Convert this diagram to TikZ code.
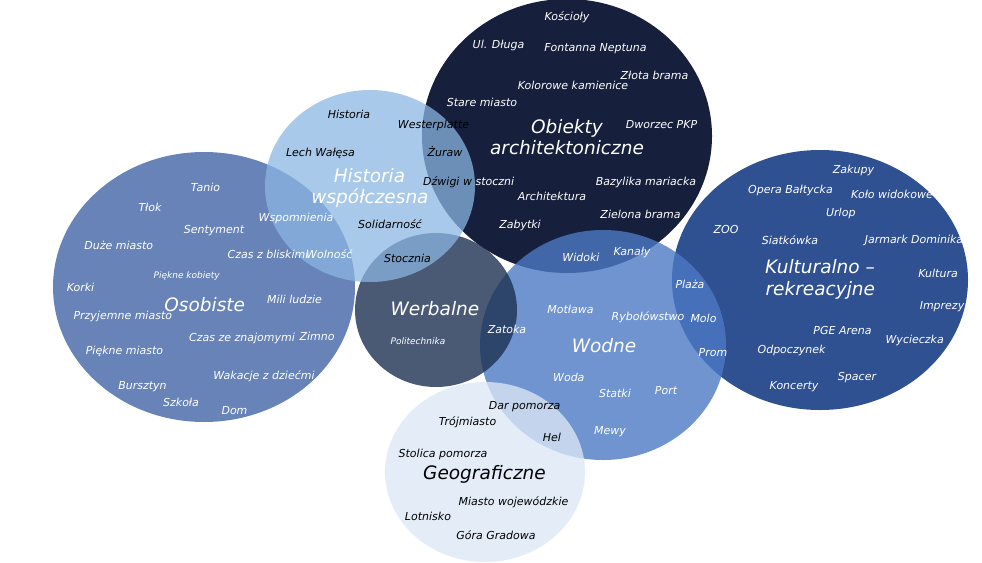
\documentclass[tikz,border=0pt]{standalone}
\usepackage{fontspec}
\setmainfont{DejaVu Sans}
\definecolor{cobj}{RGB}{22,32,60}
\definecolor{ckul}{RGB}{47,80,145}
\definecolor{cwod}{RGB}{76,121,196}
\definecolor{cosb}{RGB}{103,131,184}
\definecolor{cwer}{RGB}{29,49,83}
\definecolor{chis}{RGB}{139,182,226}
\definecolor{cgeo}{RGB}{219,231,245}
\begin{document}
\begin{tikzpicture}[x=1pt,y=-1pt,
  lw/.style={font=\fontsize{11}{13}\selectfont\itshape,text=white,inner sep=0pt,anchor=base},
  lb/.style={lw,text=black},
  ls/.style={font=\fontsize{9}{11}\selectfont\itshape,text=white,inner sep=0pt,anchor=base},
  tw/.style={font=\fontsize{18.5}{22}\selectfont\itshape,text=white,inner sep=0pt,anchor=base},
  tb/.style={tw,text=black}]
\useasboundingbox (0,0) rectangle (982,562);
% circles
\fill[cobj] (567,136) ellipse [x radius=145pt, y radius=137pt];
\fill[ckul] (820,280) ellipse [x radius=148pt, y radius=130pt];
\fill[cwod, fill opacity=0.8] (603,345) ellipse [x radius=123pt, y radius=115pt];
\fill[cosb] (204,287) ellipse [x radius=151pt, y radius=135pt];
\fill[cwer, fill opacity=0.8] (436,310) ellipse [x radius=81pt, y radius=77pt];
\fill[chis, fill opacity=0.74] (370,186) ellipse [x radius=105pt, y radius=96pt];
\fill[cgeo, fill opacity=0.78] (485,472) ellipse [x radius=100pt, y radius=90pt];
% Obiekty architektoniczne
\node[lw] (kosc) at (567,20) {Kościoły};
\node[lw] (dluga) at (498.5,48) {Ul. Długa};
\node[lw] (nept) at (595.5,51) {Fontanna Neptuna};
\node[lw] (zlota) at (654.5,79) {Złota brama};
\node[lw] (kolor) at (573,89) {Kolorowe kamienice};
\node[lw] (stare) at (482,106) {Stare miasto};
\node[lw] (dworzec) at (661.5,128) {Dworzec PKP};
\node[tw] (objt1) at (567,133.5) {Obiekty};
\node[tw] (objt2) at (567,154.5) {architektoniczne};
\node[lw] (bazyl) at (646,185) {Bazylika mariacka};
\node[lw] (archi) at (552,200) {Architektura};
\node[lw] (ziel) at (640.5,218) {Zielona brama};
\node[lw] (zab) at (520,228) {Zabytki};
\node[lb] (wester) at (433.5,128) {Westerplatte};
\node[lb] (zuraw) at (445,156) {Żuraw};
\node[lb,anchor=base west] (dzwigi) at (423,185) {Dźwigi w \textcolor{white}{stoczni}};
% Historia wspolczesna
\node[lb] (hist) at (349,118) {Historia};
\node[lb] (lech) at (320.5,156) {Lech Wałęsa};
\node[tw] (hist1) at (369.5,182.5) {Historia};
\node[tw] (hist2) at (370,203.5) {współczesna};
\node[lw] (wspom) at (296,221) {Wspomnienia};
\node[lb] (solid) at (390,228) {Solidarność};
\node[lw] (czas) at (268,258) {Czas z bliskimi};
\node[lw,anchor=base west] (wolnosc) at (306,258) {Wolność};
\node[lb] (stocznia) at (407.5,262) {Stocznia};
% Osobiste
\node[lw] (tanio) at (205.5,191) {Tanio};
\node[lw] (tlok) at (150,211) {Tłok};
\node[lw] (sent) at (214,233) {Sentyment};
\node[lw] (duze) at (118.7,249) {Duże miasto};
\node[ls] (kobiety) at (186.7,278.5) {Piękne kobiety};
\node[lw] (korki) at (80.5,291) {Korki};
\node[tw] (osob) at (204.7,311.5) {Osobiste};
\node[lw] (mili) at (294.5,303) {Mili ludzie};
\node[lw] (przyj) at (122.8,319) {Przyjemne miasto};
\node[lw] (znaj) at (242,341) {Czas ze znajomymi};
\node[lw] (zimno) at (317,340) {Zimno};
\node[lw] (piekne) at (124.5,354) {Piękne miasto};
\node[lw] (wakacje) at (264,379) {Wakacje z dziećmi};
\node[lw] (bursz) at (142.5,389) {Bursztyn};
\node[lw] (szkola) at (181,406) {Szkoła};
\node[lw] (dom) at (234.5,414) {Dom};
% Werbalne
\node[tw] (werb) at (435,315.5) {Werbalne};
\node[ls] (polit) at (418,344.5) {Politechnika};
\node[lw] (zatoka) at (507,333) {Zatoka};
% Wodne
\node[lw] (widoki) at (581,261) {Widoki};
\node[lw] (kanaly) at (632,255) {Kanały};
\node[lw] (motlawa) at (570.5,313) {Motława};
\node[lw] (rybol) at (648,320) {Rybołówstwo};
\node[tw] (wodne) at (604,352.5) {Wodne};
\node[lw] (woda) at (568.8,381) {Woda};
\node[lw] (statki) at (615,397) {Statki};
\node[lw] (port) at (666,394) {Port};
\node[lw] (mewy) at (610,434) {Mewy};
\node[lw] (plaza) at (690,288) {Plaża};
\node[lw] (molo) at (703.5,322) {Molo};
\node[lw] (prom) at (713,356) {Prom};
% Kulturalno - rekreacyjne
\node[lw] (zakupy) at (853.5,173) {Zakupy};
\node[lw] (opera) at (790.5,193) {Opera Bałtycka};
\node[lw] (kolo) at (892,198) {Koło widokowe};
\node[lw] (urlop) at (840.8,216) {Urlop};
\node[lw] (zoo) at (726,233) {ZOO};
\node[lw] (siat) at (790,244) {Siatkówka};
\node[lw] (jarmark) at (914,243) {Jarmark Dominika};
\node[tw] (kult1) at (820,273.5) {Kulturalno –};
\node[tw] (kult2) at (820.3,295.5) {rekreacyjne};
\node[lw] (kultura) at (938,277) {Kultura};
\node[lw] (imprezy) at (942,309) {Imprezy};
\node[lw] (pge) at (842.5,334) {PGE Arena};
\node[lw] (wyc) at (914.7,343) {Wycieczka};
\node[lw] (odpo) at (791.5,353) {Odpoczynek};
\node[lw] (spacer) at (857,380) {Spacer};
\node[lw] (koncerty) at (794,389) {Koncerty};
% Geograficzne
\node[lb] (dar) at (524.7,409) {Dar pomorza};
\node[lb] (troj) at (467.5,425) {Trójmiasto};
\node[lb] (hel) at (552,441) {Hel};
\node[lb] (stolica) at (443,457) {Stolica pomorza};
\node[tb] (geo) at (484.5,479.5) {Geograficzne};
\node[lb] (miasto) at (513.5,505) {Miasto wojewódzkie};
\node[lb] (lotnisko) at (428,520) {Lotnisko};
\node[lb] (gora) at (496,539) {Góra Gradowa};
\end{tikzpicture}
\end{document}
